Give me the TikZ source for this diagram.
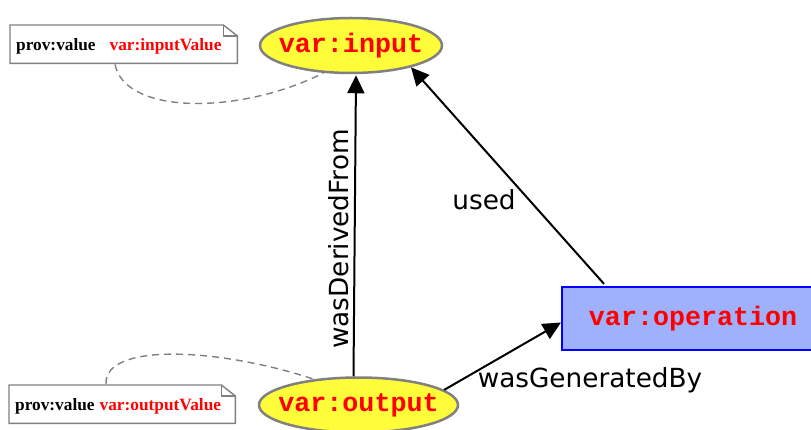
\documentclass[tikz,border=0pt]{standalone}
\usepackage{fontspec}
\usetikzlibrary{shapes.geometric,arrows.meta,calc}
\newfontfamily\monob{Liberation Mono}
\newfontfamily\lblfont{DejaVu Sans}
\newfontfamily\notefont{Liberation Serif}
\definecolor{entyellow}{HTML}{FFFC3A}
\definecolor{actblue}{HTML}{9FB1FC}
\definecolor{bordergray}{HTML}{808080}
\tikzset{
  entity/.style={ellipse, draw=bordergray, line width=2.5pt, fill=entyellow, minimum width=182pt, minimum height=55pt, inner sep=0pt},
  enttext/.style={font=\monob\bfseries\fontsize{26.7}{26.7}\selectfont, text=red, inner sep=0pt},
  activity/.style={rectangle, draw=blue, line width=2.2pt, fill=actblue, minimum width=252pt, minimum height=63pt, inner sep=0pt, font=\monob\bfseries\fontsize{26.7}{26.7}\selectfont, text=red},
  notebox/.style={rectangle, minimum height=38pt, inner sep=0pt},
  notetext/.style={font=\notefont\bfseries\fontsize{17.3}{17.3}\selectfont},
  noteline/.style={draw=bordergray, line width=1.4pt, fill=white},
  rel/.style={line width=2pt, -{Triangle[length=18pt,width=17pt]}},
  lbl/.style={font=\lblfont\fontsize{26.3}{26.3}\selectfont},
  annot/.style={draw=bordergray, line width=1.4pt, dash pattern=on 7pt off 5pt}
}
\begin{document}
\begin{tikzpicture}[x=1pt,y=-1pt]
\useasboundingbox (0,0) rectangle (811,430);
% nodes
\node[entity, label={[enttext]center:var:input}] (input) at (351,45.5) {};
\node[entity, minimum width=199pt, label={[enttext]center:var:output}] (output) at (358.5,405) {};
\node[activity, anchor=west] (op) at (561,318.5) {\hspace*{10pt}var:operation};
% notes
\node[notebox, minimum width=227pt, anchor=north west] (innote) at (10,25) {};
\draw[noteline] (innote.north west) -- ($(innote.north east)+(-14,0)$) -- ($(innote.north east)+(0,11)$) -- (innote.south east) -- (innote.south west) -- cycle;
\draw[bordergray, line width=1.1pt] ($(innote.north east)+(-14,0)$) -- ($(innote.north east)+(-14,11)$) -- ($(innote.north east)+(0,11)$);
\node[notetext, anchor=west, inner sep=0pt] (intext) at ($(innote.west)+(6,2)$) {prov:value\hspace{14pt}\textcolor{red}{var:inputValue}};
\node[notebox, minimum width=226pt, anchor=north west] (outnote) at (9,385) {};
\draw[noteline] (outnote.north west) -- ($(outnote.north east)+(-14,0)$) -- ($(outnote.north east)+(0,11)$) -- (outnote.south east) -- (outnote.south west) -- cycle;
\draw[bordergray, line width=1.1pt] ($(outnote.north east)+(-14,0)$) -- ($(outnote.north east)+(-14,11)$) -- ($(outnote.north east)+(0,11)$);
\node[notetext, anchor=west, inner sep=0pt] (outtext) at ($(outnote.west)+(6,2)$) {prov:value\hspace{5pt}\textcolor{red}{var:outputValue}};
% annotation links
\coordinate (inlinkA) at ($(innote.south west)+(105,1)$);
\coordinate (outlinkA) at ($(outnote.north west)+(97,-1)$);
\draw[annot] (inlinkA) .. controls (125,115) and (240,115) .. (input.225);
\draw[annot] (outlinkA) .. controls (104,342) and (220,348) .. (output.150);
% relations
\coordinate (oN) at ($(output.north)+(-5,0)$);
\coordinate (iS) at ($(input.south)+(5,1)$);
\draw[rel] (oN) -- (iS);
\coordinate (opTop) at ($(op.north west)+(43,-2)$);
\draw[rel] (opTop) -- (input.-20);
\coordinate (opW) at ($(op.west)+(0,4)$);
\draw[rel] (output.10) -- (opW);
% labels
\node[lbl, rotate=90] (lDer) at (339,239) {wasDerivedFrom};
\node[lbl] (lUsed) at (484,200) {used};
\node[lbl] (lGen) at (590,380) {wasGeneratedBy};
\end{tikzpicture}
\end{document}
